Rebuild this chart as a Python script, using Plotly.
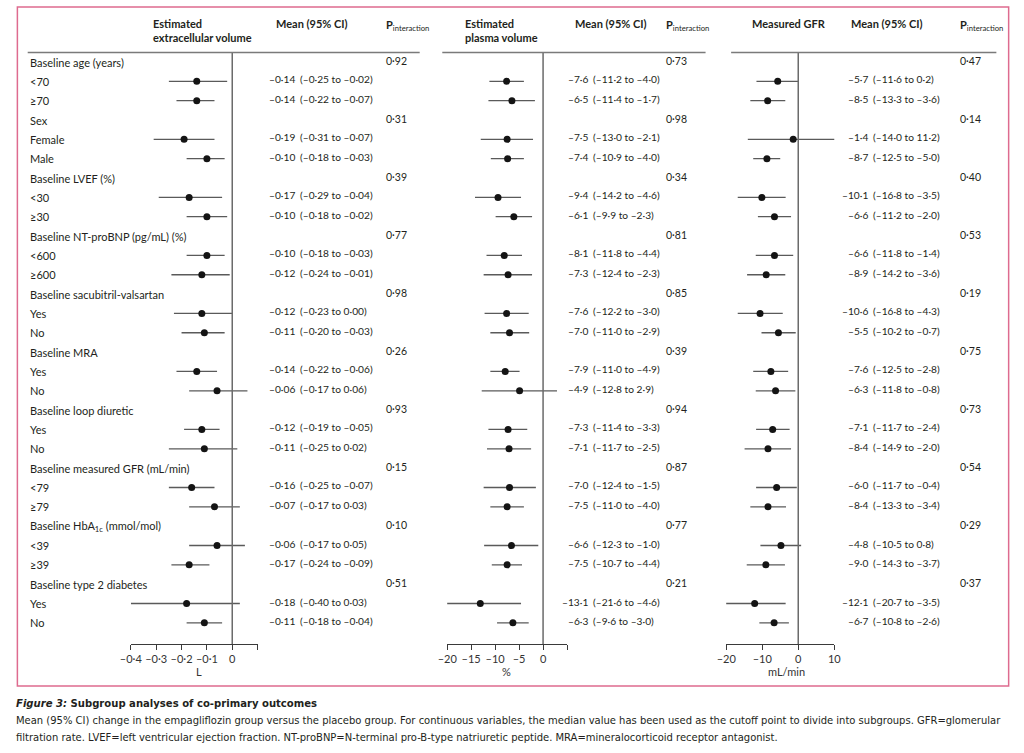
import plotly.graph_objects as go

W, H = 1024, 753

groups = ["Baseline age (years)", "Sex", "Baseline LVEF (%)", "Baseline NT-proBNP (pg/mL) (%)",
          "Baseline sacubitril-valsartan", "Baseline MRA", "Baseline loop diuretic",
          "Baseline measured GFR (mL/min)", "Baseline HbA<sub>1c</sub> (mmol/mol)", "Baseline type 2 diabetes"]
subgroups = [["<70", "≥70"], ["Female", "Male"], ["<30", "≥30"], ["<600", "≥600"], ["Yes", "No"],
             ["Yes", "No"], ["Yes", "No"], ["<79", "≥79"], ["<39", "≥39"], ["Yes", "No"]]

ecv_mean = [-0.14, -0.14, -0.19, -0.10, -0.17, -0.10, -0.10, -0.12, -0.12, -0.11,
            -0.14, -0.06, -0.12, -0.11, -0.16, -0.07, -0.06, -0.17, -0.18, -0.11]
ecv_lo = [-0.25, -0.22, -0.31, -0.18, -0.29, -0.18, -0.18, -0.24, -0.23, -0.20,
          -0.22, -0.17, -0.19, -0.25, -0.25, -0.17, -0.17, -0.24, -0.40, -0.18]
ecv_hi = [-0.02, -0.07, -0.07, -0.03, -0.04, -0.02, -0.03, -0.01, 0.00, -0.03,
          -0.06, 0.06, -0.05, 0.02, -0.07, 0.03, 0.05, -0.09, 0.03, -0.04]
ecv_p = [0.92, 0.31, 0.39, 0.77, 0.98, 0.26, 0.93, 0.15, 0.10, 0.51]

pv_mean = [-7.6, -6.5, -7.5, -7.4, -9.4, -6.1, -8.1, -7.3, -7.6, -7.0,
           -7.9, -4.9, -7.3, -7.1, -7.0, -7.5, -6.6, -7.5, -13.1, -6.3]
pv_lo = [-11.2, -11.4, -13.0, -10.9, -14.2, -9.9, -11.8, -12.4, -12.2, -11.0,
         -11.0, -12.8, -11.4, -11.7, -12.4, -11.0, -12.3, -10.7, -21.6, -9.6]
pv_hi = [-4.0, -1.7, -2.1, -4.0, -4.6, -2.3, -4.4, -2.3, -3.0, -2.9,
         -4.9, 2.9, -3.3, -2.5, -1.5, -4.0, -1.0, -4.4, -4.6, -3.0]
pv_p = [0.73, 0.98, 0.34, 0.81, 0.85, 0.39, 0.94, 0.87, 0.77, 0.21]

gfr_mean = [-5.7, -8.5, -1.4, -8.7, -10.1, -6.6, -6.6, -8.9, -10.6, -5.5,
            -7.6, -6.3, -7.1, -8.4, -6.0, -8.4, -4.8, -9.0, -12.1, -6.7]
gfr_lo = [-11.6, -13.3, -14.0, -12.5, -16.8, -11.2, -11.8, -14.2, -16.8, -10.2,
          -12.5, -11.8, -11.7, -14.9, -11.7, -13.3, -10.5, -14.3, -20.7, -10.8]
gfr_hi = [0.2, -3.6, 11.2, -5.0, -3.5, -2.0, -1.4, -3.6, -4.3, -0.7,
          -2.8, -0.8, -2.4, -2.0, -0.4, -3.4, 0.8, -3.7, -3.5, -2.6]
gfr_p = [0.47, 0.14, 0.40, 0.53, 0.19, 0.75, 0.73, 0.54, 0.29, 0.37]

ecv_ticks = [-0.4, -0.3, -0.2, -0.1, 0]
ecv_ticklabels = ["–0·4", "–0·3", "–0·2", "–0·1", "0"]
ecv_range = [-0.4, 0.1]
pv_ticks = [-20, -15, -10, -5, 0]
pv_ticklabels = ["–20", "–15", "–10", "–5", "0"]
pv_range = [-20, 5]
gfr_ticks = [-20, -10, 0, 10]
gfr_ticklabels = ["–20", "–10", "0", "10"]
gfr_range = [-20, 10]

FONT = "Lato, 'Open Sans', sans-serif"
CAPFONT = "'Liberation Sans Narrow', 'DejaVu Sans Condensed', 'Arial Narrow', sans-serif"
TXT = "#231f20"


def px(x):
    return x / W


def py(y):
    return 1 - y / H


def fmt(v, d):
    s = f"{abs(v):.{d}f}".replace(".", "·")
    if round(v, d) < 0:
        s = "–" + s
    return s


# row geometry
ROW0, ROWH = 62, 19.34
TOP, BOT = 53, 644
yr = [(BOT - ROW0) / ROWH, (TOP - ROW0) / ROWH]
sub_rows = []
for g in range(len(groups)):
    sub_rows += [3 * g + 1, 3 * g + 2]

panels = [
    dict(mean=ecv_mean, lo=ecv_lo, hi=ecv_hi, p=ecv_p, d=2, xr=ecv_range, dom=[122, 251],
         ticks=ecv_ticks, tl=ecv_ticklabels, title="L", tx=191,
         head="Estimated<br>extracellular volume", hx=142, mx=268, pix=380,
         paren=292, line=[17, 416]),
    dict(mean=pv_mean, lo=pv_lo, hi=pv_hi, p=pv_p, d=1, xr=pv_range, dom=[444, 566],
         ticks=pv_ticks, tl=pv_ticklabels, title="%", tx=504,
         head="Estimated<br>plasma volume", hx=460, mx=572, pix=665,
         paren=590, line=[439, 707]),
    dict(mean=gfr_mean, lo=gfr_lo, hi=gfr_hi, p=gfr_p, d=1, xr=gfr_range, dom=[728, 838],
         ticks=gfr_ticks, tl=gfr_ticklabels, title="mL/min", tx=789,
         head="Measured GFR", hx=752, mx=853, pix=964,
         paren=875, line=[733, 1003]),
]

fig = go.Figure()
annotations = []
shapes = []
layout = {}

for i, pn in enumerate(panels):
    k = "" if i == 0 else str(i + 1)
    xa, ya = "x" + k, "y" + k
    fig.add_trace(go.Scatter(
        x=pn["mean"], y=sub_rows, xaxis=xa, yaxis=ya, mode="markers",
        marker=dict(size=7, color="#141414"),
        error_x=dict(type="data", symmetric=False,
                     array=[h - m for h, m in zip(pn["hi"], pn["mean"])],
                     arrayminus=[m - l for m, l in zip(pn["mean"], pn["lo"])],
                     width=0, thickness=1.3, color="#5a5a5a"),
        cliponaxis=False, showlegend=False, hoverinfo="skip"))
    layout["xaxis" + k] = dict(
        domain=[px(pn["dom"][0]), px(pn["dom"][1])], range=pn["xr"], anchor=ya,
        showgrid=False, zeroline=False, showline=True, linecolor="#3a3a3a", linewidth=1.3,
        ticks="outside", ticklen=5, tickwidth=1.2, tickcolor="#3a3a3a",
        tickvals=pn["ticks"], ticktext=pn["tl"],
        minor=dict(tickvals=[pn["xr"][1]], ticks="outside", ticklen=5, tickwidth=1.2,
                   tickcolor="#3a3a3a", showgrid=False),
        tickfont=dict(family=FONT, size=11, color="#333"), fixedrange=True)
    layout["yaxis" + k] = dict(domain=[py(BOT), py(TOP)], range=yr, anchor=xa,
                               visible=False, fixedrange=True)
    # zero line
    shapes.append(dict(type="line", xref=xa, yref="paper", x0=0, x1=0, y0=py(BOT), y1=py(TOP),
                       line=dict(color="#6a6a6a", width=1.5)))
    # header separator
    shapes.append(dict(type="line", xref="paper", yref="paper", x0=px(pn["line"][0]),
                       x1=px(pn["line"][1]), y0=py(52.5), y1=py(52.5),
                       line=dict(color="#7a7a7a", width=1.6)))
    # headers
    annotations.append(dict(xref="paper", yref="paper", x=px(pn["hx"]), y=py(15),
                            xanchor="left", yanchor="top", align="left", showarrow=False,
                            text="<b>" + pn["head"] + "</b>",
                            font=dict(family=FONT, size=11, color=TXT)))
    annotations.append(dict(xref="paper", yref="paper", x=px(pn["mx"]), y=py(15),
                            xanchor="left", yanchor="top", showarrow=False,
                            text="<b>Mean (95% CI)</b>",
                            font=dict(family=FONT, size=11, color=TXT)))
    annotations.append(dict(xref="paper", yref="paper", x=px(pn["pix"]), y=py(16),
                            xanchor="left", yanchor="top", showarrow=False,
                            text="<b>P</b><sub>interaction</sub>",
                            font=dict(family=FONT, size=11, color=TXT)))
    # mean / CI text
    for j, r in enumerate(sub_rows):
        annotations.append(dict(xref="paper", yref=ya, x=px(pn["paren"] - 1), y=r, yshift=2,
                                xanchor="right", yanchor="middle", showarrow=False,
                                text=fmt(pn["mean"][j], pn["d"]),
                                font=dict(family=FONT, size=10.2, color=TXT)))
        annotations.append(dict(xref="paper", yref=ya, x=px(pn["paren"]), y=r, yshift=2,
                                xanchor="left", yanchor="middle", showarrow=False,
                                text="(" + fmt(pn["lo"][j], pn["d"]) + " to " + fmt(pn["hi"][j], pn["d"]) + ")",
                                font=dict(family=FONT, size=10.2, color=TXT)))
    # p values
    for g, pv in enumerate(pn["p"]):
        annotations.append(dict(xref="paper", yref=ya, x=px(pn["pix"]), y=3 * g, yshift=1,
                                xanchor="left", yanchor="middle", showarrow=False,
                                text=fmt(pv, 2), font=dict(family=FONT, size=10.5, color=TXT)))
    # axis title
    annotations.append(dict(xref="paper", yref="paper", x=px(pn["tx"]), y=py(671),
                            xanchor="center", yanchor="middle", showarrow=False,
                            text=pn["title"], font=dict(family=FONT, size=11, color="#333")))

# row labels
for g, name in enumerate(groups):
    annotations.append(dict(xref="paper", yref="y", x=px(17), y=3 * g, xanchor="left",
                            yanchor="middle", showarrow=False, text=name,
                            font=dict(family=FONT, size=11, color=TXT)))
    for s, sname in enumerate(subgroups[g]):
        annotations.append(dict(xref="paper", yref="y", x=px(17), y=3 * g + 1 + s, xanchor="left",
                                yanchor="middle", showarrow=False, text=sname,
                                font=dict(family=FONT, size=11, color=TXT)))

# border
shapes.append(dict(type="rect", xref="paper", yref="paper", x0=px(6.5), x1=px(1015.5),
                   y0=py(686), y1=py(7), line=dict(color="#de6b8f", width=1.5)))

# caption
annotations.append(dict(xref="paper", yref="paper", x=px(3), y=py(703), xanchor="left",
                        yanchor="middle", showarrow=False,
                        text="<b><i>Figure 3:</i> Subgroup analyses of co-primary outcomes</b>",
                        font=dict(family=CAPFONT, size=11.2, color=TXT)))
annotations.append(dict(xref="paper", yref="paper", x=px(3), y=py(720), xanchor="left",
                        yanchor="middle", showarrow=False,
                        text="Mean (95% CI) change in the empagliflozin group versus the placebo group. For continuous variables, the median value has been used as the cutoff point to divide into subgroups. GFR=glomerular",
                        font=dict(family=CAPFONT, size=11.1, color=TXT)))
annotations.append(dict(xref="paper", yref="paper", x=px(3), y=py(737), xanchor="left",
                        yanchor="middle", showarrow=False,
                        text="filtration rate. LVEF=left ventricular ejection fraction. NT-proBNP=N-terminal pro-B-type natriuretic peptide. MRA=mineralocorticoid receptor antagonist.",
                        font=dict(family=CAPFONT, size=11.1, color=TXT)))

fig.update_layout(width=W, height=H, margin=dict(l=0, r=0, t=0, b=0),
                  paper_bgcolor="white", plot_bgcolor="white",
                  annotations=annotations, shapes=shapes, **layout)

fig.write_html("out.html", config={"displayModeBar": False},
               post_script="document.body.style.margin='0px';document.body.style.overflow='hidden';")
